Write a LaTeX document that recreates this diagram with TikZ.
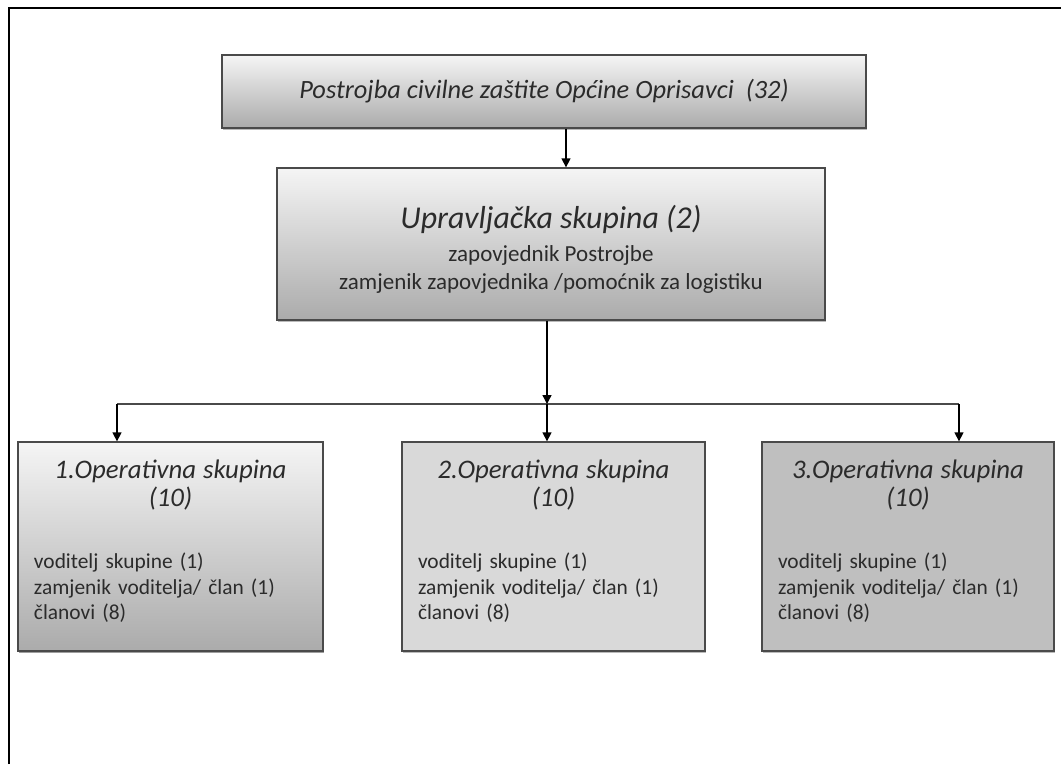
\documentclass[tikz,border=0pt]{standalone}
\usepackage{fontspec}
\setmainfont{Carlito}
\usepackage{xcolor}
\usetikzlibrary{arrows.meta,shadows}
\definecolor{boxline}{HTML}{4A4A4A}
\definecolor{textgrey}{HTML}{2B2B2B}
\tikzset{
    grey-box/.style = {draw=boxline, line width=1.3pt, rectangle, text=textgrey,
        drop shadow={shadow xshift=0.8pt, shadow yshift=-1.6pt, fill=black!45, opacity=0.6}},
    shaded-box/.style = {grey-box, top color=black!4, bottom color=black!33},
    op-box/.style = {grey-box, text width=#1, align=left, inner xsep=16pt,
        minimum height=209pt, font=\fontsize{21.4}{25.5}\selectfont},
    link/.style = {line width=1.3pt, draw=black, -{Triangle[width=9pt,length=9pt]}},
    bus-line/.style = {line width=1.3pt, draw=boxline},
}
\newcommand{\optitle}[1]{{\centering\itshape\fontsize{26.8}{27.5}\selectfont #1\par}}
\newcommand{\opitems}{voditelj skupine (1)\\zamjenik voditelja/ član (1)\\članovi (8)\par\vspace{10pt}}

\begin{document}
\begin{tikzpicture}[x=1pt,y=-1pt]
\useasboundingbox (0,0) rectangle (1061,764);
\draw[line width=2.5pt, black] (9,764) -- (9,8) -- (1061,8);

\node[shaded-box, minimum width=644pt, minimum height=73pt, font=\itshape\fontsize{26.4}{30}\selectfont]
    (top) at (544,91.5) {Postrojba civilne zaštite Općine Oprisavci~~(32)};
\node[shaded-box, minimum width=548pt, minimum height=152pt, align=center, font=\fontsize{23}{28.5}\selectfont]
    (mid) at (551,244) {{\itshape\fontsize{31.8}{34}\selectfont\rule{0pt}{34pt}Upravljačka skupina (2)}\\[4pt]
    zapovjednik Postrojbe\\ zamjenik zapovjednika /pomoćnik za logistiku};

\node[op-box=273pt, shaded-box] (op1) at (170.5,546.5)
    {\optitle{1.Operativna skupina\\(10)}\vspace{37pt}\opitems};
\node[op-box=271pt, fill=black!15] (op2) at (553.5,546.5)
    {\optitle{2.Operativna skupina\\(10)}\vspace{37pt}\opitems};
\node[op-box=260pt, fill=black!25] (op3) at (908,546.5)
    {\optitle{3.Operativna skupina\\(10)}\vspace{37pt}\opitems};

\coordinate (a0) at (566,0);
\coordinate (j1) at (117,404);
\coordinate (j2) at (547,404);
\coordinate (j3) at (959,404);

\draw[link] (top.south -| a0) -- (mid.north -| a0);
\draw[bus-line] (j1) -- (j3);
\draw[link] (mid.south -| j2) -- (j2);
\foreach \i in {1,2,3}
    \draw[link] (j\i) -- (op\i.north -| j\i);
\end{tikzpicture}
\end{document}
